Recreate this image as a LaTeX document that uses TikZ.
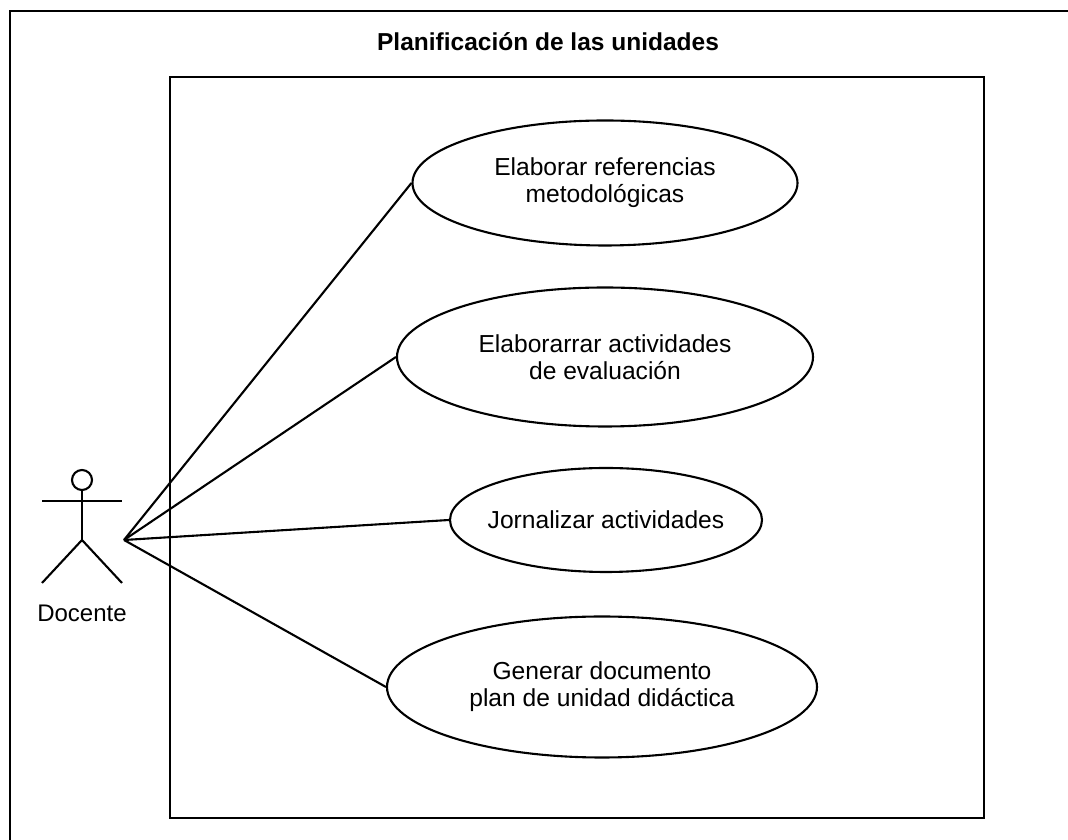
\documentclass[tikz,border=0pt]{standalone}
\usepackage{fontspec}
\setmainfont{Liberation Sans}
\usepackage{tikz}
\usetikzlibrary{shapes.geometric,positioning}

\begin{document}
\begin{tikzpicture}[x=1pt,y=1pt,line width=2.1pt,
    usecase/.style={draw,ellipse,inner sep=0pt,align=center,
      font=\fontsize{24.6}{27}\selectfont}]
    \useasboundingbox (0,0) rectangle (1068,840);
    % frame and system boundary
    \draw[line width=2.6pt] (1068,829) -- (10,829) -- (10,0);
    \draw[line width=2.4pt] (170,22) rectangle (984,763);
    \node (title) at (548,798) {\fontsize{24.5}{28}\selectfont\bfseries Planificación de las unidades};

    % use cases
    \node[usecase,minimum width=385pt,minimum height=125pt] (refs) at (605,657)
    {Elaborar referencias\\metodológicas};
    \node[usecase,minimum width=416pt,minimum height=139pt] (eval) at (605,483)
    {Elaborarrar actividades\\de evaluación};
    \node[usecase,inner xsep=-12pt,minimum width=312pt,minimum height=104pt] (jorn) at (606,320)
    {Jornalizar actividades};
    \node[usecase,minimum width=430pt,minimum height=141pt] (plan) at (602,153)
    {Generar documento\\plan de unidad didáctica};

    % actor
    \draw (82,360) circle (10);
    \draw (82,350) -- (82,300);
    \draw (42,339) -- (122,339);
    \draw (42,257) -- (82,300) -- (122,257);
    \node[font=\fontsize{24}{27}\selectfont] (docente) at (82,227) {Docente};
    \coordinate (hub) at (124,300);

    \draw (hub) -- (refs.west);
    \draw (hub) -- (eval.west);
    \draw (hub) -- (jorn.west);
    \draw (hub) -- (plan.west);
\end{tikzpicture}
\end{document}
